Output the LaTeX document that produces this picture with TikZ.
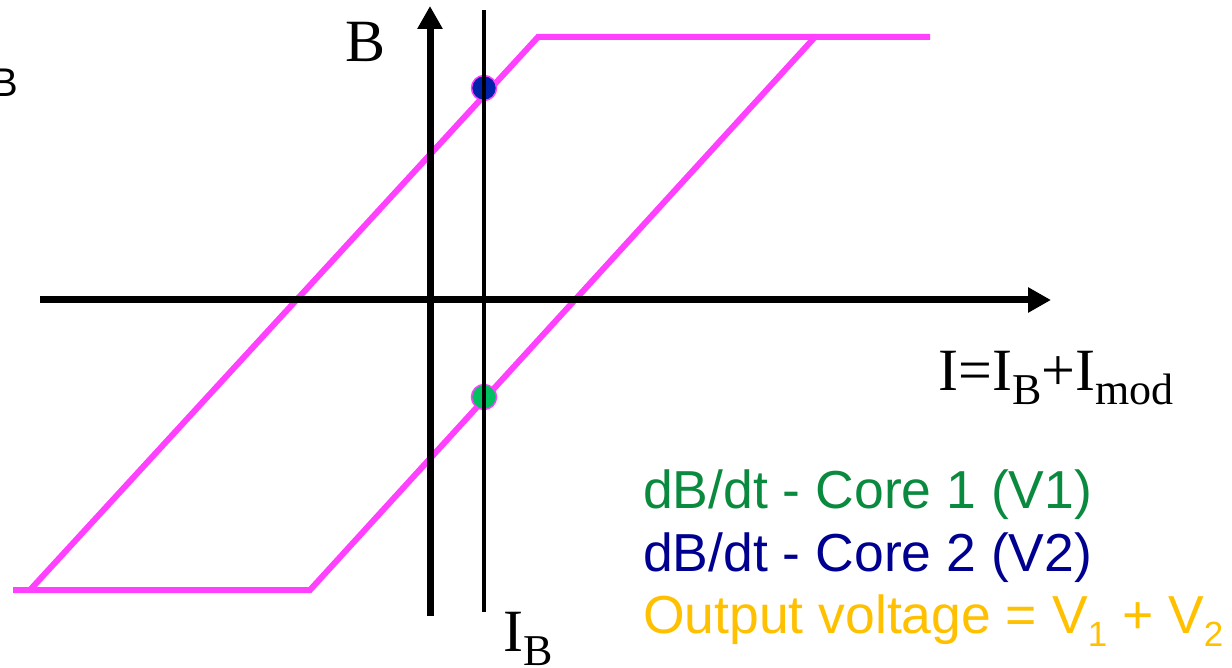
\documentclass[tikz,border=0pt]{standalone}
\usepackage{fontspec}
\setmainfont{Liberation Serif}
\newfontfamily\sansf{Liberation Sans}
\usetikzlibrary{arrows.meta}
\definecolor{loop}{HTML}{FF40FF}
\definecolor{dotblue}{HTML}{0022AA}
\definecolor{dotgreen}{HTML}{00C060}
\definecolor{txtgreen}{HTML}{0A8A3E}
\definecolor{txtblue}{HTML}{000090}
\definecolor{txtorange}{HTML}{FFC000}
\newcommand{\serifsub}[1]{\raisebox{-14pt}{\fontsize{44}{44}\selectfont #1}}
\newcommand{\sanssub}[1]{\raisebox{-13pt}{\fontsize{35}{35}\selectfont #1}}
\tikzset{
  loopline/.style={draw=loop,line width=6pt,line join=miter},
  axisline/.style={draw=black,line width=7pt,-{Triangle[length=23pt,width=24pt]}},
  biasline/.style={draw=black,line width=3.5pt},
  pointdot/.style={circle,draw=loop,line width=1.5pt,minimum size=25pt,inner sep=0pt},
  serifl/.style={font=\fontsize{60}{64}\selectfont,inner sep=0pt,anchor=base west},
  legend/.style={font=\sansf\fontsize{53.5}{60}\selectfont,inner sep=0pt,anchor=base west}
}
\begin{document}
\begin{tikzpicture}[x=1pt,y=-1pt]
\useasboundingbox (0,0) rectangle (1232,668);
% hysteresis loop
\draw[loopline] (13,590) -- (310,590) -- (815,37) -- (930,37);
\draw[loopline] (30,590) -- (538,37) -- (815,37);
% points on the loop
\node[pointdot,fill=dotblue] (p2) at (484,88) {};
\node[pointdot,fill=dotgreen] (p1) at (484,397) {};
% axes
\coordinate (xs) at (40,300);
\coordinate (xe) at (1051,300);
\coordinate (ys) at (430,616);
\coordinate (ye) at (430,6);
\draw[axisline] (xs) -- (xe);
\draw[axisline] (ys) -- (ye);
% bias line
\coordinate (bt) at (484,10);
\coordinate (bb) at (484,612);
\draw[biasline] (bt) -- (bb);
% labels
\node[serifl] (lB) at (345,62) {B};
\node[font=\sansf\fontsize{40}{44}\selectfont,inner sep=0pt,anchor=base west] (lBcut) at (-9,97) {B};
\node[serifl] (lI) at (938,390) {I=I\serifsub{B}+I\serifsub{mod}};
\node[serifl] (lIB) at (503,651) {I\serifsub{B}};
% legend
\node[legend,text=txtgreen] (l1) at (643,508) {dB/dt - Core 1 (V1)};
\node[legend,text=txtblue] (l2) at (643,571) {dB/dt - Core 2 (V2)};
\node[legend,text=txtorange] (l3) at (643,633) {Output voltage = V\sanssub{1} + V\sanssub{2}};
\end{tikzpicture}
\end{document}
